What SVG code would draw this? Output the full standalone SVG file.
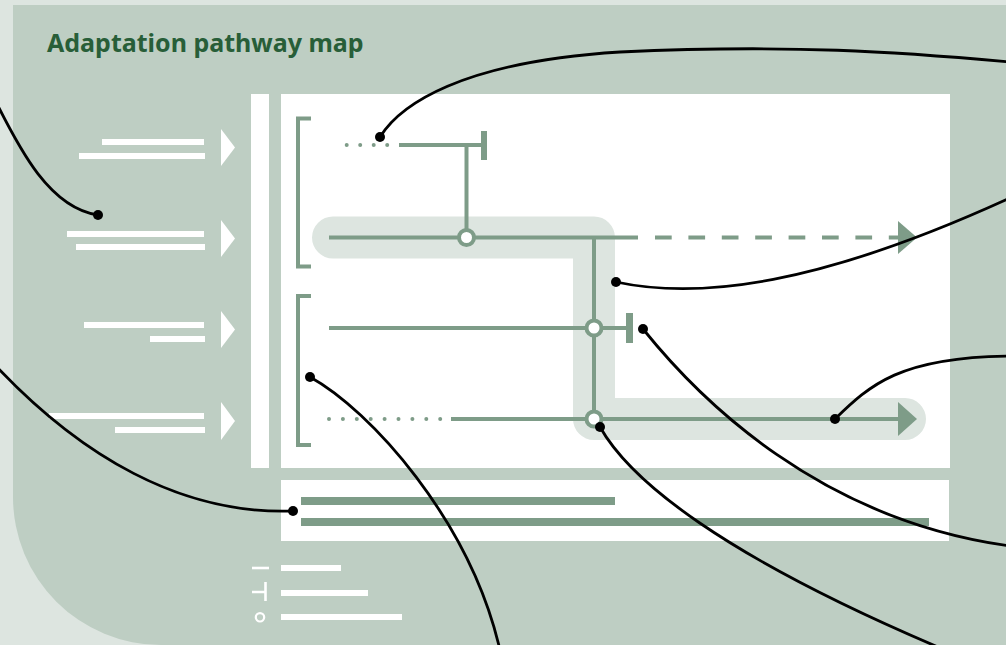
<svg xmlns="http://www.w3.org/2000/svg" width="1006" height="645" viewBox="0 0 1006 645">
<defs>
<style>
.g{stroke:#7E9C88;stroke-width:4;fill:none}
.bar{fill:#fff}
.gbar{fill:#7E9C88}
.tri{fill:#fff}
.lead{stroke:#000;stroke-width:2.8;fill:none}
.dot{fill:#000}
.node{fill:#fff;stroke:#7E9C88;stroke-width:4}
.dots{stroke:#7E9C88;stroke-width:4;stroke-linecap:round;fill:none}
.title{font-family:"Noto Sans","Open Sans",sans-serif;font-weight:700;font-size:25px;fill:#285E38}
</style>
</defs>
<rect x="0" y="0" width="1006" height="645" fill="#DDE5E0"/>
<path d="M13,5 H1006 V645 H161 A148,148 0 0 1 13,497 Z" fill="#BECEC3"/>
<text class="title" x="47" y="52">Adaptation pathway map</text>

<g id="inputs">
<rect class="bar" x="102" y="139" width="102" height="6"/>
<rect class="bar" x="79" y="153" width="126" height="6"/>
<polygon class="tri" points="221,129 235,147.5 221,166"/>
<rect class="bar" x="67" y="231" width="137" height="6"/>
<rect class="bar" x="76" y="244" width="129" height="6"/>
<polygon class="tri" points="221,220 235,238.5 221,257"/>
<rect class="bar" x="84" y="322" width="120" height="6"/>
<rect class="bar" x="150" y="336" width="55" height="6"/>
<polygon class="tri" points="221,311 235,329.5 221,348"/>
<rect class="bar" x="49" y="413" width="155" height="6"/>
<rect class="bar" x="115" y="427" width="90" height="6"/>
<polygon class="tri" points="221,402 235,421 221,440"/>
</g>

<g id="divider"><rect x="251" y="94" width="18" height="374" fill="#fff"/></g>

<g id="map">
<rect x="281" y="94" width="669" height="374" fill="#fff"/>
<path d="M333,237.5 H594 V419 H905" stroke="#DDE5E0" stroke-width="42" stroke-linecap="round" stroke-linejoin="round" fill="none"/>
<path class="g" d="M311,118.5 H298 V266.5 H311"/>
<path class="g" d="M311,296 H298 V445 H311"/>
<path class="dots" d="M346.7,145 H390" stroke-dasharray="0 13.5"/>
<path class="g" d="M399,145 H481"/>
<rect x="481" y="131" width="6" height="29" fill="#7E9C88"/>
<path class="g" d="M466.5,145 V237.5"/>
<path class="g" d="M329,237.5 H638"/>
<path class="g" d="M655,237.5 H899" stroke-dasharray="16.7 16.7"/>
<polygon points="898,221 917,237.5 898,254" fill="#7E9C88"/>
<path class="g" d="M594,237.5 V419"/>
<path class="g" d="M329,328 H627"/>
<rect x="626" y="313" width="7" height="30" fill="#7E9C88"/>
<path class="dots" d="M329,419 H445" stroke-dasharray="0 13.9"/>
<path class="g" d="M451,419 H899"/>
<polygon points="898,402 917,419 898,436" fill="#7E9C88"/>
<circle class="node" cx="466.5" cy="237.5" r="7.5"/>
<circle class="node" cx="594" cy="328" r="7.5"/>
<circle class="node" cx="594" cy="419" r="7.5"/>
</g>

<g id="timeline">
<rect x="281" y="480" width="668" height="61" fill="#fff"/>
<rect class="gbar" x="301" y="497" width="314" height="8"/>
<rect class="gbar" x="301" y="518" width="628" height="8"/>
</g>

<g id="legend">
<path d="M252,568 H269" stroke="#fff" stroke-width="2.6"/>
<rect class="bar" x="281" y="565" width="60" height="6"/>
<path d="M252,592 H265.5 M265.5,582 V601" stroke="#fff" stroke-width="2.6" fill="none"/>
<rect class="bar" x="281" y="590" width="87" height="6"/>
<circle cx="260" cy="617.3" r="4.2" fill="none" stroke="#fff" stroke-width="2.2"/>
<rect class="bar" x="281" y="614" width="121" height="6"/>
</g>

<g id="connectors">
<path class="lead" d="M-4,102 C20,150 50,208 98,215"/>
<circle class="dot" cx="98" cy="215" r="5"/>
<path class="lead" d="M-4,366 C80,455 180,515 293,511"/>
<circle class="dot" cx="293" cy="511" r="5"/>
<path class="lead" d="M380,137 C400,105 460,62 620,52 C790,44 900,52 1010,62"/>
<circle class="dot" cx="380" cy="137" r="5"/>
<path class="lead" d="M616,282 C700,300 820,285 1010,198"/>
<circle class="dot" cx="616" cy="282" r="5"/>
<path class="lead" d="M643,329 C700,400 820,520 1010,546"/>
<circle class="dot" cx="643" cy="329" r="5"/>
<path class="lead" d="M835,419 C870,385 900,357 1010,356"/>
<circle class="dot" cx="835" cy="419" r="5"/>
<path class="lead" d="M310,377 C370,410 470,520 500,650"/>
<circle class="dot" cx="310" cy="377" r="5"/>
<path class="lead" d="M600,427 C630,480 720,555 945,650"/>
<circle class="dot" cx="600" cy="427" r="5"/>
</g>
</svg>
